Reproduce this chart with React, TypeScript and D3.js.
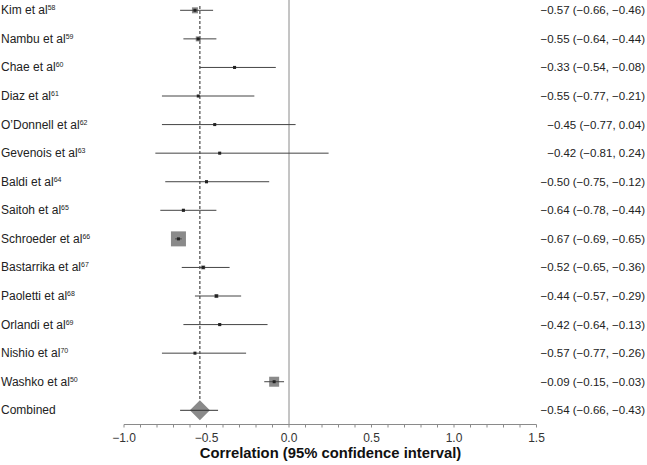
import React from "react";
import * as d3 from "d3";

const studies = [
  "Kim et al", "Nambu et al", "Chae et al", "Diaz et al", "O’Donnell et al", "Gevenois et al",
  "Baldi et al", "Saitoh et al", "Schroeder et al", "Bastarrika et al", "Paoletti et al",
  "Orlandi et al", "Nishio et al", "Washko et al", "Combined",
];
const refs = ["58", "59", "60", "61", "62", "63", "64", "65", "66", "67", "68", "69", "70", "50", ""];
const estimates = [-0.57, -0.55, -0.33, -0.55, -0.45, -0.42, -0.50, -0.64, -0.67, -0.52, -0.44, -0.42, -0.57, -0.09, -0.54];
const lower = [-0.66, -0.64, -0.54, -0.77, -0.77, -0.81, -0.75, -0.78, -0.69, -0.65, -0.57, -0.64, -0.77, -0.15, -0.66];
const upper = [-0.46, -0.44, -0.08, -0.21, 0.04, 0.24, -0.12, -0.44, -0.65, -0.36, -0.29, -0.13, -0.26, -0.03, -0.43];
const weights = [36, 25, 9, 4, 6, 6, 9, 9, 225, 16, 16, 9, 4, 100];
const xTicks = [-1.0, -0.5, 0.0, 0.5, 1.0, 1.5];

const fmt = (v: number) => d3.format(".2f")(v).replace("-", "\u2212");

export default function App() {
  const W = 647, H = 465;
  const x = d3.scaleLinear().domain([-1, 1.5]).range([124, 536.5]);
  const y = d3.scalePoint<string>().domain(studies).range([10.3, 410.3]);
  const size = d3.scaleSqrt().domain([0, d3.max(weights) as number]).range([0, 15]);
  const axisY = 424.5;
  const minor = d3.range(-10, 16).map((i) => i / 10);
  const n = studies.length;
  const combined = n - 1;
  const font = "Liberation Sans, Arial, sans-serif";

  return (
    <svg width={W} height={H} style={{ position: "absolute", left: 0, top: 0, background: "#fff" }} fontFamily={font}>
      <line x1={x(0)} x2={x(0)} y1={0} y2={axisY} stroke="#8a8a8a" strokeWidth={1} />
      <line x1={x(estimates[combined])} x2={x(estimates[combined])} y1={6} y2={400} stroke="#222" strokeWidth={1} strokeDasharray="3,2" />
      {studies.map((s, i) => {
        const cy = y(s) as number;
        if (i === combined) {
          const cx = x(estimates[i]);
          return (
            <g key={s}>
              <path d={`M${cx - 10},${cy} L${cx},${cy - 10} L${cx + 10},${cy} L${cx},${cy + 10} Z`} fill="#8a8a8a" />
              <line x1={x(lower[i])} x2={x(upper[i])} y1={cy} y2={cy} stroke="#333" strokeWidth={1} />
            </g>
          );
        }
        const sz = size(weights[i]);
        const cx = x(estimates[i]);
        return (
          <g key={s}>
            <rect x={cx - sz / 2} y={cy - sz / 2} width={sz} height={sz} fill="#8a8a8a" />
            <line x1={x(lower[i])} x2={x(upper[i])} y1={cy} y2={cy} stroke="#444" strokeWidth={1} />
            <rect x={cx - 1.5} y={cy - 1.5} width={3} height={3} fill="#222" />
          </g>
        );
      })}
      {studies.map((s, i) => {
        const cy = y(s) as number;
        return (
          <text key={"l" + s} x={1} y={cy + 4} fontSize={12} fill="#222">
            {s}
            {refs[i] && <tspan fontSize={7} dy={-4}>{refs[i]}</tspan>}
          </text>
        );
      })}
      {studies.map((s, i) => {
        const cy = y(s) as number;
        return (
          <text key={"r" + s} x={645} y={cy + 4} fontSize={11.5} fill="#222" textAnchor="end">
            {`${fmt(estimates[i])} (${fmt(lower[i])}, ${fmt(upper[i])})`}
          </text>
        );
      })}
      <line x1={x(-1)} x2={x(1.5)} y1={axisY} y2={axisY} stroke="#8a8a8a" strokeWidth={1} />
      {minor.map((t) => (
        <line key={"t" + t} x1={x(t)} x2={x(t)} y1={axisY} y2={axisY + 3} stroke="#8a8a8a" strokeWidth={1} />
      ))}
      {xTicks.map((t) => (
        <text key={"tl" + t} x={x(t)} y={442} fontSize={12} fill="#333" textAnchor="middle">
          {d3.format(".1f")(t).replace("-", "\u2212")}
        </text>
      ))}
      <text x={330.5} y={458} fontSize={14.8} fontWeight="bold" fill="#111" textAnchor="middle">
        Correlation (95% confidence interval)
      </text>
    </svg>
  );
}
